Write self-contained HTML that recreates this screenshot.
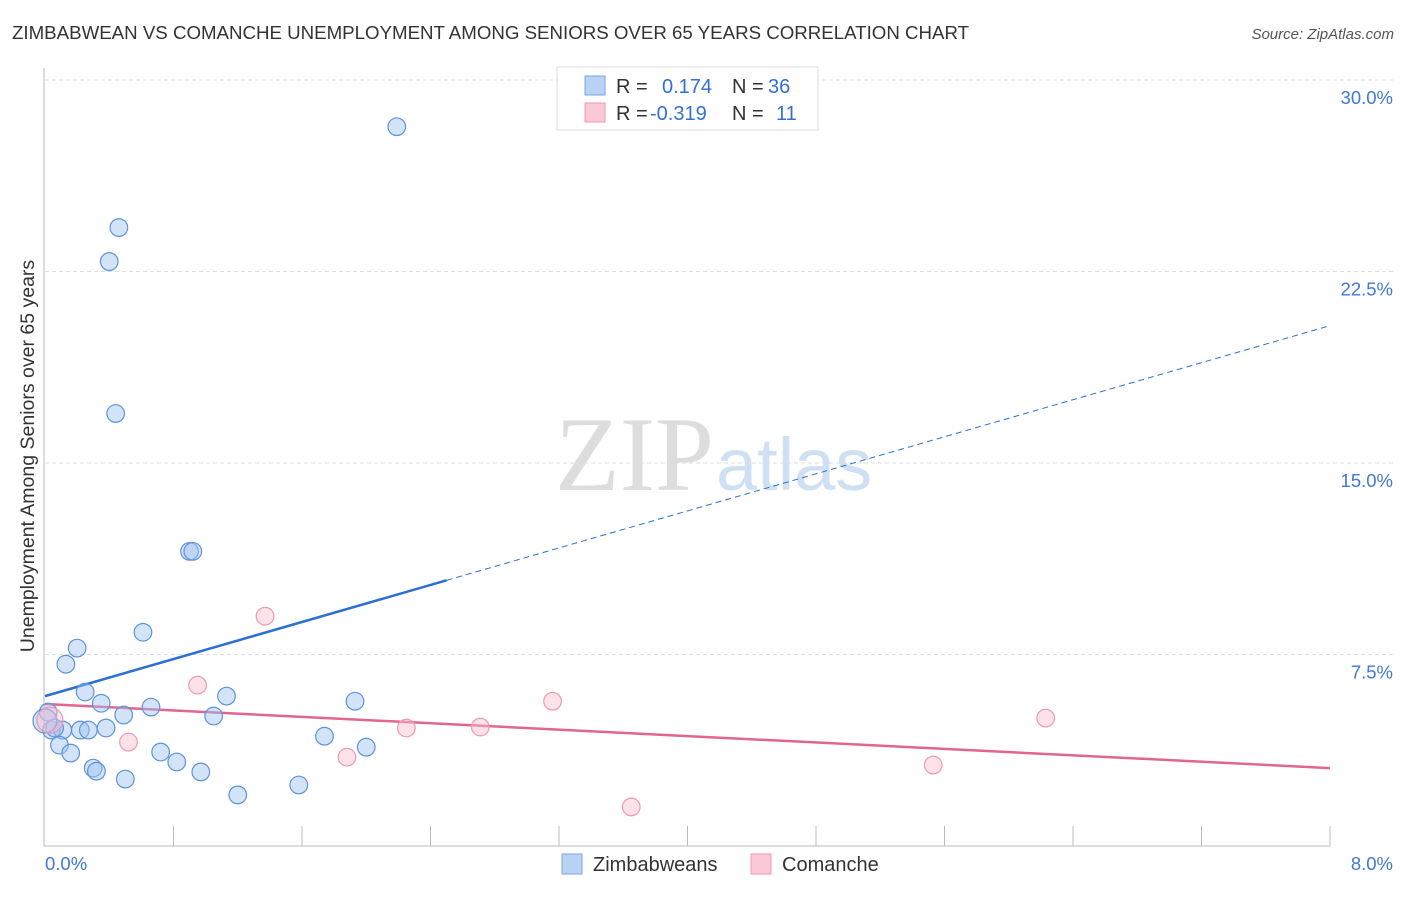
<!DOCTYPE html>
<html><head><meta charset="utf-8"><style>
body{margin:0;background:#fff;width:1406px;height:892px;overflow:hidden;font-family:"Liberation Sans",sans-serif}
</style></head><body>
<svg id="chart" width="1406" height="892" font-family="Liberation Sans, sans-serif">
<text x="12" y="39" font-size="18.7" fill="#333">ZIMBABWEAN VS COMANCHE UNEMPLOYMENT AMONG SENIORS OVER 65 YEARS CORRELATION CHART</text>
<text x="1394" y="39" font-size="15" fill="#555" font-style="italic" text-anchor="end">Source: ZipAtlas.com</text>
<text x="714" y="490" font-size="106" fill="#ddd" text-anchor="end" font-family="Liberation Serif, serif">ZIP</text>
<text x="716" y="490" font-size="74" fill="#cfe0f3">atlas</text>
<g id="grid"></g><g id="axes"></g><g id="lines"></g><g id="pts"></g>
<text transform="translate(34,456) rotate(-90)" font-size="19.5" fill="#333" text-anchor="middle">Unemployment Among Seniors over 65 years</text>
<g>
<rect x="557" y="67" width="261" height="63" fill="#fff" stroke="#ddd"/>
<rect x="585" y="76" width="20" height="19" fill="#b9d3f5" stroke="#7aa6e0"/>
<rect x="585" y="103" width="20" height="19" fill="#fbc8d6" stroke="#ec9ab2"/>
<text x="616" y="93" font-size="20" fill="#333">R = </text><text x="662" y="93" font-size="20" fill="#3370d0">0.174</text>
<text x="732" y="93" font-size="20" fill="#333">N = </text><text x="768" y="93" font-size="20" fill="#3370d0">36</text>
<text x="616" y="120" font-size="20" fill="#333">R = </text><text x="650" y="120" font-size="20" fill="#3370d0">-0.319</text>
<text x="732" y="120" font-size="20" fill="#333">N = </text><text x="776" y="120" font-size="20" fill="#3370d0">11</text>
</g>
<g>
<rect x="562" y="854" width="20" height="20" fill="#b9d3f5" stroke="#7aa6e0"/>
<text x="593" y="871" font-size="20" fill="#333">Zimbabweans</text>
<rect x="751" y="854" width="20" height="20" fill="#fbc8d6" stroke="#ec9ab2"/>
<text x="782" y="871" font-size="20" fill="#333">Comanche</text>
</g>
</svg>
<script>
const yTicks=[7.5,15.0,22.5,30.0];
const xTickLabels=["0.0%","8.0%"];
const blueX=[2.19,0.46,0.40,0.44,0.90,0.92,0.61,0.20,0.13,0.25,0.66,0.35,1.13,1.93,1.05,0.49,0.02,0.04,0.11,0.22,0.27,0.38,0.09,0.16,0.72,0.82,0.30,0.32,0.97,0.50,1.74,2.00,1.58,1.20,0.06,0.0];
const blueY=[28.17,24.22,22.89,16.94,11.54,11.54,8.37,7.75,7.12,6.03,5.44,5.59,5.87,5.67,5.09,5.13,5.24,4.54,4.54,4.54,4.54,4.62,3.95,3.64,3.68,3.29,3.05,2.93,2.90,2.62,4.30,3.87,2.39,2.00,4.62,4.9];
const pinkX=[1.37,0.95,3.16,0.52,2.25,2.71,1.88,3.65,6.23,5.53,0.03];
const pinkY=[9.00,6.30,5.67,4.07,4.62,4.66,3.48,1.53,5.01,3.17,4.93];
const blueTrend=[5.87,20.38];
const pinkTrend=[5.56,3.05];
const NS="http://www.w3.org/2000/svg";
const X=v=>45+v/8*1285, Y=v=>846-v/30*766;
function mk(t,a,p){const e=document.createElementNS(NS,t);for(const k in a)e.setAttribute(k,a[k]);document.getElementById(p).appendChild(e);return e;}
yTicks.forEach(t=>{
 const l=mk('line',{x1:45,x2:1394,y1:Y(t),y2:Y(t),stroke:'#ddd','stroke-dasharray':'4,3'},'grid');
 
 
 const tx=mk('text',{x:1393,y:Y(t)+24,'font-size':18.5,fill:'#3f78d6','text-anchor':'end'},'grid');tx.textContent=t.toFixed(1)+'%';
 
 
});
mk('line',{x1:44,x2:44,y1:68,y2:846,stroke:'#bbb'},'axes');
mk('line',{x1:44,x2:1330,y1:846,y2:846,stroke:'#bbb'},'axes');
for(let i=1;i<=10;i++){mk('line',{x1:X(i*0.8),x2:X(i*0.8),y1:826,y2:846,stroke:'#bbb'},'axes');}
xTickLabels.forEach((s,i)=>{const t=mk('text',{x:i?1393:45,y:870,'font-size':18.5,fill:'#3f78d6','text-anchor':i?'end':'start'},'axes');t.textContent=s;
 
 });
const bf=x=>blueTrend[0]+(blueTrend[1]-blueTrend[0])*x/8;
let l1=mk('line',{x1:X(0),y1:Y(bf(0)),x2:X(2.5),y2:Y(bf(2.5)),stroke:'#2a6fd6','stroke-width':2.5},'lines');


let l2=mk('line',{x1:X(2.5),y1:Y(bf(2.5)),x2:X(8),y2:Y(bf(8)),stroke:'#2a6fd6','stroke-width':1,'stroke-dasharray':'6,4'},'lines');


let l3=mk('line',{x1:X(0),y1:Y(pinkTrend[0]),x2:X(8),y2:Y(pinkTrend[1]),stroke:'#e26590','stroke-width':2.5},'lines');


blueX.forEach((x,i)=>{const c=mk('circle',{cx:X(x),cy:Y(blueY[i]),r:i==35?12:8.8,fill:'rgba(160,196,240,0.45)',stroke:'#5d93dd','stroke-width':1.2},'pts');
 
 });
pinkX.forEach((x,i)=>{const c=mk('circle',{cx:X(x),cy:Y(pinkY[i]),r:i==10?13:8.8,fill:'rgba(250,190,208,0.45)',stroke:'#ec9ab2','stroke-width':1.2},'pts');
 
 });
</script>
</body></html>
